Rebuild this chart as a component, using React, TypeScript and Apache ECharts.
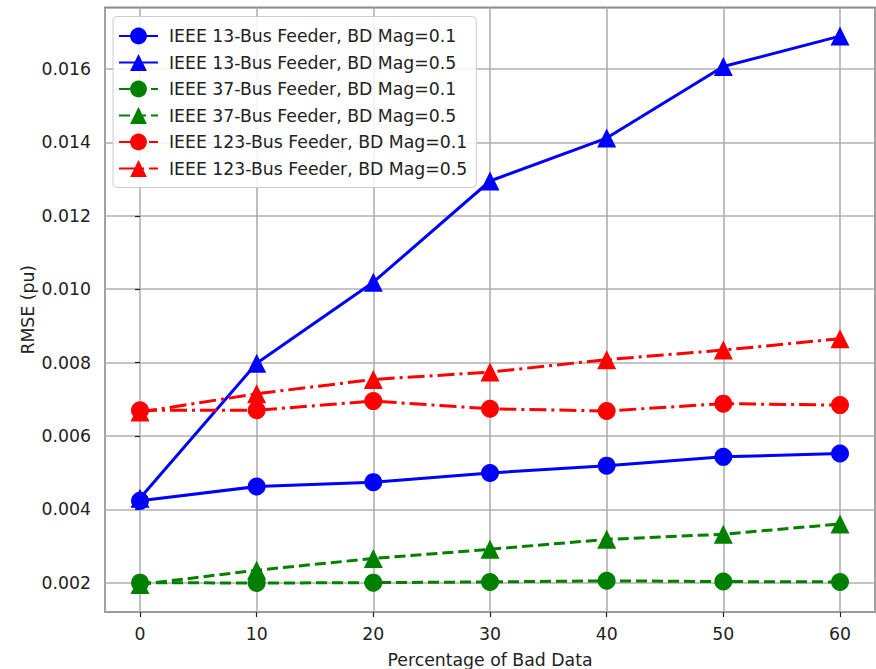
import React, { useEffect, useRef } from "react";
import * as echarts from "echarts";

const xValues = [0, 10, 20, 30, 40, 50, 60];
const ieee13Mag01 = [0.00423, 0.00462, 0.00474, 0.00499, 0.00519, 0.00543, 0.00552];
const ieee13Mag05 = [0.0043, 0.00798, 0.01019, 0.01295, 0.01412, 0.01607, 0.0169];
const ieee37Mag01 = [0.002, 0.00199, 0.002, 0.00202, 0.00205, 0.00203, 0.00202];
const ieee37Mag05 = [0.00195, 0.00234, 0.00266, 0.00291, 0.00318, 0.00332, 0.0036];
const ieee123Mag01 = [0.0067, 0.0067, 0.00695, 0.00674, 0.00668, 0.00688, 0.00684];
const ieee123Mag05 = [0.00665, 0.00715, 0.00754, 0.00774, 0.00808, 0.00834, 0.00865];

const seriesNames = [
  "IEEE 13-Bus Feeder, BD Mag=0.1",
  "IEEE 13-Bus Feeder, BD Mag=0.5",
  "IEEE 37-Bus Feeder, BD Mag=0.1",
  "IEEE 37-Bus Feeder, BD Mag=0.5",
  "IEEE 123-Bus Feeder, BD Mag=0.1",
  "IEEE 123-Bus Feeder, BD Mag=0.5",
];

const FONT = "DejaVu Sans";
const FS = 17.3;

export default function App() {
  const ref = useRef<HTMLDivElement>(null);
  useEffect(() => {
    if (!ref.current) return;
    const chart = echarts.init(ref.current, undefined, { renderer: "svg" });
    const pair = (ys: number[]) => xValues.map((x, i) => [x, ys[i]]);
    const mk = (
      name: string,
      ys: number[],
      color: string,
      symbol: string,
      dash: any
    ) => ({
      name,
      type: "line",
      data: pair(ys),
      symbol,
      symbolSize: symbol === "circle" ? 18 : [19, 19],
      showSymbol: true,
      lineStyle: { color, width: 3, type: dash },
      itemStyle: { color },
      emphasis: { disabled: true },
      z: 3,
    });
    chart.setOption({
      animation: false,
      backgroundColor: "#ffffff",
      grid: {
        left: 105,
        top: 7.5,
        right: 1,
        bottom: 57,
        outerBoundsMode: "none",
        containLabel: false,
        show: true,
        borderColor: "#222",
        borderWidth: 1.3,
        backgroundColor: "transparent",
      },
      legend: {
        orient: "vertical",
        left: 113,
        top: 16.5,
        padding: [11, 9, 10.5, 5],
        itemWidth: 39,
        itemHeight: 21,
        itemGap: 9.5,
        backgroundColor: "rgba(255,255,255,0.85)",
        borderColor: "#cccccc",
        borderWidth: 1,
        borderRadius: 4,
        textStyle: {
          fontFamily: FONT,
          fontSize: FS,
          color: "#222",
          padding: [0, 0, 0, 6],
        },
        data: seriesNames,
      },
      xAxis: {
        type: "value",
        min: -3,
        max: 63,
        minInterval: 10,
        maxInterval: 10,
        name: "Percentage of Bad Data",
        nameLocation: "middle",
        nameGap: 39,
        nameMoveOverlap: false,
        nameTextStyle: { fontFamily: FONT, fontSize: FS, color: "#222" },
        axisLine: { show: false },
        axisTick: { show: true, length: 5, lineStyle: { color: "#222", width: 1.2 } },
        axisLabel: {
          fontFamily: FONT,
          fontSize: FS,
          color: "#222",
          margin: 13,
          showMinLabel: false,
          showMaxLabel: false,
        },
        splitLine: { show: true, lineStyle: { color: "#b0b0b0", width: 1.6 } },
      },
      yAxis: {
        type: "value",
        min: 0.0012,
        max: 0.01768,
        minInterval: 0.002,
        maxInterval: 0.002,
        name: "RMSE (pu)",
        nameLocation: "middle",
        nameGap: 69,
        nameRotate: 90,
        nameMoveOverlap: false,
        nameTextStyle: { fontFamily: FONT, fontSize: FS, color: "#222" },
        axisLine: { show: false },
        axisTick: { show: true, length: 5, lineStyle: { color: "#222", width: 1.2 } },
        axisLabel: {
          fontFamily: FONT,
          fontSize: FS,
          color: "#222",
          margin: 14,
          showMinLabel: false,
          showMaxLabel: false,
          formatter: (v: number) => v.toFixed(3),
        },
        splitLine: { show: true, lineStyle: { color: "#b0b0b0", width: 1.6 } },
      },
      series: [
        mk(seriesNames[0], ieee13Mag01, "#0000ff", "circle", "solid"),
        mk(seriesNames[1], ieee13Mag05, "#0000ff", "triangle", "solid"),
        mk(seriesNames[2], ieee37Mag01, "#008000", "circle", [11, 5]),
        mk(seriesNames[3], ieee37Mag05, "#008000", "triangle", [11, 5]),
        mk(seriesNames[4], ieee123Mag01, "#ff0000", "circle", [17, 5, 3, 5]),
        mk(seriesNames[5], ieee123Mag05, "#ff0000", "triangle", [17, 5, 3, 5]),
      ],
    });
    return () => chart.dispose();
  }, []);
  return (
    <div
      ref={ref}
      style={{ position: "absolute", left: 0, top: 0, width: 876, height: 669 }}
    />
  );
}
